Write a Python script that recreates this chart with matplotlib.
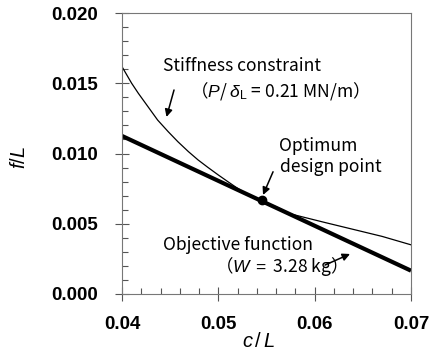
import matplotlib
matplotlib.use("Agg")
import matplotlib.pyplot as plt
from matplotlib.ticker import MultipleLocator

# ---- data ----
stiff_c = [0.0400, 0.0410, 0.0417, 0.0427, 0.0437, 0.0448, 0.0458, 0.0469, 0.0479,
           0.0489, 0.0500, 0.0510, 0.0520, 0.0534, 0.0545, 0.0560, 0.0575, 0.0610,
           0.0640, 0.0670, 0.0700]
stiff_f = [0.01618, 0.0150, 0.01428, 0.01333, 0.01238, 0.01155, 0.01084, 0.01013, 0.00954,
           0.00902, 0.00847, 0.00799, 0.00752, 0.00693, 0.00665, 0.0062, 0.0057, 0.0051,
           0.0046, 0.0041, 0.0035]
obj_c = [0.040, 0.070]
obj_f = [0.01125, 0.00166]
opt_c = [0.0545]
opt_f = [0.00667]
xticks = [0.04, 0.05, 0.06, 0.07]
yticks = [0.000, 0.005, 0.010, 0.015, 0.020]
xticklabels = ["0.04", "0.05", "0.06", "0.07"]
yticklabels = ["0.000", "0.005", "0.010", "0.015", "0.020"]

plt.rcParams['mathtext.fontset'] = 'custom'
plt.rcParams['mathtext.rm'] = 'Liberation Sans'
plt.rcParams['mathtext.it'] = 'Liberation Sans:italic'

fig = plt.figure(figsize=(4.39, 3.55), dpi=100)
ax = fig.add_axes([122/439, 1-294/355, (411-122)/439, (294-13)/355])

ax.plot(stiff_c, stiff_f, color='black', lw=0.9)
ax.plot(obj_c, obj_f, color='black', lw=3.0, solid_capstyle='butt')
ax.plot(opt_c, opt_f, 'o', color='black', ms=6)

ax.set_xlim(0.04, 0.07)
ax.set_ylim(0.0, 0.02)
ax.set_xticks(xticks)
ax.set_xticklabels(xticklabels)
ax.set_yticks(yticks)
ax.set_yticklabels(yticklabels)
ax.xaxis.set_minor_locator(MultipleLocator(0.002))
ax.yaxis.set_minor_locator(MultipleLocator(0.001))
ax.tick_params(which='major', direction='inout', length=10, width=0.8, color='#555555')
ax.tick_params(which='minor', direction='in', length=4.5, width=0.8, color='#555555')
ax.tick_params(axis='y', pad=12.5)
ax.tick_params(axis='x', pad=11)
for lab in ax.get_xticklabels() + ax.get_yticklabels():
    lab.set_fontfamily('Liberation Sans')
    lab.set_fontsize(13.5)
    lab.set_fontweight('bold')
for s in ax.spines.values():
    s.set_color('#777777')
    s.set_linewidth(0.8)

ax.set_xlabel(r"$c\,/\,L$", fontsize=14.5)
ax.set_ylabel(r"$f/L$", fontsize=14.5)
ax.xaxis.set_label_coords(0.471, -0.137)
ax.yaxis.set_label_coords(-0.322, 0.484)

tf = ['Noto Sans CJK JP', 'DejaVu Sans']
fs = 12.6
ax.text(0.04426, 0.01623, "Stiffness constraint", family=tf, fontsize=fs, va='center', ha='left')
ax.text(0.0471, 0.01447, "（$P$/ $\\delta_{\\rm L}$ = 0.21 MN/m）", family=tf, fontsize=fs, va='center', ha='left')
ax.text(0.0563, 0.01053, "Optimum", family=tf, fontsize=fs, va='center', ha='left')
ax.text(0.0564, 0.00904, "design point", family=tf, fontsize=fs, va='center', ha='left')
ax.text(0.04426, 0.00349, "Objective function", family=tf, fontsize=fs, va='center', ha='left')
ax.text(0.0497, 0.00199, "（$W$ $=$ 3.28 kg）", family=tf, fontsize=fs, va='center', ha='left')

ap = dict(arrowstyle='-|>', lw=1.1, color='black', mutation_scale=11, shrinkA=0, shrinkB=0)
ax.annotate("", xy=(0.04462, 0.0126), xytext=(0.0454, 0.01452), arrowprops=ap)
ax.annotate("", xy=(0.05464, 0.00705), xytext=(0.05568, 0.0087), arrowprops=ap)
ax.annotate("", xy=(0.06367, 0.00285), xytext=(0.06107, 0.00206), arrowprops=ap)

fig.savefig("out.png", dpi=100)
